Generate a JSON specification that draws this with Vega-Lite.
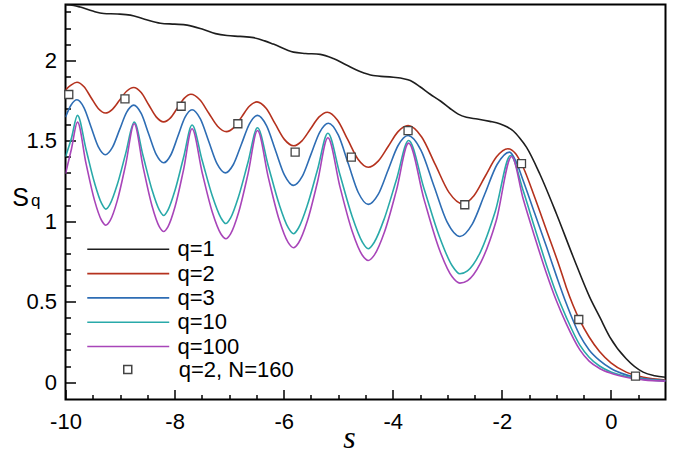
{
  "$schema": "https://vega.github.io/schema/vega-lite/v6.json",
  "width": 600,
  "height": 395,
  "autosize": {"type": "none"},
  "padding": {"left": 65.5, "top": 4.5, "right": 13.5, "bottom": 55.5},
  "background": "#ffffff",
  "config": {"view": {"stroke": "#000000", "strokeWidth": 2}, "font": "Liberation Sans"},
  "title": {"text": "q", "orient": "left", "angle": 0, "anchor": "middle", "offset": -33.5, "align": "center", "baseline": "alphabetic", "dy": 3.5, "fontSize": 17, "font": "Liberation Sans", "fontWeight": "normal", "color": "#000000"},
  "datasets": {
    "curves": [
      {"q":"q=1","s":-10,"v":2.345},{"q":"q=1","s":-9.85,"v":2.34},{"q":"q=1","s":-9.73,"v":2.33},{"q":"q=1","s":-9.5,"v":2.305},{"q":"q=1","s":-9.3,"v":2.29},{"q":"q=1","s":-9.05,"v":2.287},{"q":"q=1","s":-8.81,"v":2.28},{"q":"q=1","s":-8.55,"v":2.255},{"q":"q=1","s":-8.26,"v":2.23},{"q":"q=1","s":-8.0,"v":2.224},{"q":"q=1","s":-7.77,"v":2.218},{"q":"q=1","s":-7.47,"v":2.19},{"q":"q=1","s":-7.25,"v":2.165},{"q":"q=1","s":-7.04,"v":2.153},{"q":"q=1","s":-6.8,"v":2.148},{"q":"q=1","s":-6.55,"v":2.14},{"q":"q=1","s":-6.35,"v":2.12},{"q":"q=1","s":-6.19,"v":2.1},{"q":"q=1","s":-5.82,"v":2.05},{"q":"q=1","s":-5.6,"v":2.042},{"q":"q=1","s":-5.33,"v":2.036},{"q":"q=1","s":-5.09,"v":2.01},{"q":"q=1","s":-4.85,"v":1.97},{"q":"q=1","s":-4.6,"v":1.93},{"q":"q=1","s":-4.36,"v":1.905},{"q":"q=1","s":-3.99,"v":1.894},{"q":"q=1","s":-3.8,"v":1.885},{"q":"q=1","s":-3.68,"v":1.874},{"q":"q=1","s":-3.5,"v":1.835},{"q":"q=1","s":-3.32,"v":1.79},{"q":"q=1","s":-3.12,"v":1.745},{"q":"q=1","s":-2.95,"v":1.7},{"q":"q=1","s":-2.8,"v":1.665},{"q":"q=1","s":-2.65,"v":1.645},{"q":"q=1","s":-2.45,"v":1.635},{"q":"q=1","s":-2.22,"v":1.62},{"q":"q=1","s":-2.04,"v":1.605},{"q":"q=1","s":-1.9,"v":1.585},{"q":"q=1","s":-1.79,"v":1.56},{"q":"q=1","s":-1.67,"v":1.515},{"q":"q=1","s":-1.55,"v":1.46},{"q":"q=1","s":-1.3,"v":1.29},{"q":"q=1","s":-1.0,"v":1.046},{"q":"q=1","s":-0.69,"v":0.776},{"q":"q=1","s":-0.39,"v":0.528},{"q":"q=1","s":-0.2,"v":0.4},{"q":"q=1","s":-0.02,"v":0.28},{"q":"q=1","s":0.28,"v":0.145},{"q":"q=1","s":0.59,"v":0.062},{"q":"q=1","s":0.8,"v":0.04},{"q":"q=1","s":1.0,"v":0.03},

      {"q":"q=2","s":-10,"v":1.815},{"q":"q=2","s":-9.9,"v":1.845},{"q":"q=2","s":-9.79,"v":1.863},{"q":"q=2","s":-9.66,"v":1.835},{"q":"q=2","s":-9.53,"v":1.767},{"q":"q=2","s":-9.4,"v":1.7},{"q":"q=2","s":-9.27,"v":1.672},{"q":"q=2","s":-9.14,"v":1.695},{"q":"q=2","s":-9.01,"v":1.751},{"q":"q=2","s":-8.88,"v":1.807},{"q":"q=2","s":-8.75,"v":1.83},{"q":"q=2","s":-8.6125,"v":1.799},{"q":"q=2","s":-8.475,"v":1.723},{"q":"q=2","s":-8.3375,"v":1.648},{"q":"q=2","s":-8.2,"v":1.617},{"q":"q=2","s":-8.075,"v":1.642},{"q":"q=2","s":-7.95,"v":1.702},{"q":"q=2","s":-7.825,"v":1.763},{"q":"q=2","s":-7.7,"v":1.788},{"q":"q=2","s":-7.5375,"v":1.754},{"q":"q=2","s":-7.375,"v":1.672},{"q":"q=2","s":-7.2125,"v":1.59},{"q":"q=2","s":-7.05,"v":1.556},{"q":"q=2","s":-6.91,"v":1.583},{"q":"q=2","s":-6.77,"v":1.648},{"q":"q=2","s":-6.63,"v":1.714},{"q":"q=2","s":-6.49,"v":1.741},{"q":"q=2","s":-6.3225,"v":1.701},{"q":"q=2","s":-6.155,"v":1.604},{"q":"q=2","s":-5.9875,"v":1.508},{"q":"q=2","s":-5.82,"v":1.468},{"q":"q=2","s":-5.665,"v":1.499},{"q":"q=2","s":-5.51,"v":1.572},{"q":"q=2","s":-5.355,"v":1.646},{"q":"q=2","s":-5.2,"v":1.677},{"q":"q=2","s":-5.0125,"v":1.627},{"q":"q=2","s":-4.825,"v":1.506},{"q":"q=2","s":-4.6375,"v":1.385},{"q":"q=2","s":-4.45,"v":1.335},{"q":"q=2","s":-4.2675,"v":1.373},{"q":"q=2","s":-4.085,"v":1.464},{"q":"q=2","s":-3.9025,"v":1.556},{"q":"q=2","s":-3.72,"v":1.594},{"q":"q=2","s":-3.47,"v":1.523},{"q":"q=2","s":-3.22,"v":1.351},{"q":"q=2","s":-2.97,"v":1.179},{"q":"q=2","s":-2.72,"v":1.108},{"q":"q=2","s":-2.5125,"v":1.158},{"q":"q=2","s":-2.305,"v":1.279},{"q":"q=2","s":-2.0975,"v":1.4},{"q":"q=2","s":-1.89,"v":1.45},{"q":"q=2","s":-1.75,"v":1.42},{"q":"q=2","s":-1.61,"v":1.335},{"q":"q=2","s":-1.4,"v":1.15},{"q":"q=2","s":-1.18,"v":0.942},{"q":"q=2","s":-0.94,"v":0.714},{"q":"q=2","s":-0.82,"v":0.59},{"q":"q=2","s":-0.57,"v":0.383},{"q":"q=2","s":-0.4,"v":0.28},{"q":"q=2","s":-0.21,"v":0.19},{"q":"q=2","s":0,"v":0.12},{"q":"q=2","s":0.28,"v":0.062},{"q":"q=2","s":0.6,"v":0.03},{"q":"q=2","s":1,"v":0.013},

      {"q":"q=3","s":-10,"v":1.646},{"q":"q=3","s":-9.9,"v":1.72},{"q":"q=3","s":-9.79,"v":1.754},{"q":"q=3","s":-9.66,"v":1.704},{"q":"q=3","s":-9.53,"v":1.583},{"q":"q=3","s":-9.4,"v":1.463},{"q":"q=3","s":-9.27,"v":1.413},{"q":"q=3","s":-9.14,"v":1.458},{"q":"q=3","s":-9.01,"v":1.567},{"q":"q=3","s":-8.88,"v":1.676},{"q":"q=3","s":-8.75,"v":1.721},{"q":"q=3","s":-8.6125,"v":1.669},{"q":"q=3","s":-8.475,"v":1.542},{"q":"q=3","s":-8.3375,"v":1.415},{"q":"q=3","s":-8.2,"v":1.363},{"q":"q=3","s":-8.07,"v":1.411},{"q":"q=3","s":-7.94,"v":1.527},{"q":"q=3","s":-7.81,"v":1.644},{"q":"q=3","s":-7.68,"v":1.692},{"q":"q=3","s":-7.5275,"v":1.635},{"q":"q=3","s":-7.375,"v":1.496},{"q":"q=3","s":-7.2225,"v":1.357},{"q":"q=3","s":-7.07,"v":1.3},{"q":"q=3","s":-6.9225,"v":1.352},{"q":"q=3","s":-6.775,"v":1.478},{"q":"q=3","s":-6.6275,"v":1.605},{"q":"q=3","s":-6.48,"v":1.657},{"q":"q=3","s":-6.315,"v":1.593},{"q":"q=3","s":-6.15,"v":1.439},{"q":"q=3","s":-5.985,"v":1.286},{"q":"q=3","s":-5.82,"v":1.222},{"q":"q=3","s":-5.66,"v":1.278},{"q":"q=3","s":-5.5,"v":1.415},{"q":"q=3","s":-5.34,"v":1.552},{"q":"q=3","s":-5.18,"v":1.608},{"q":"q=3","s":-4.9975,"v":1.534},{"q":"q=3","s":-4.815,"v":1.356},{"q":"q=3","s":-4.6325,"v":1.178},{"q":"q=3","s":-4.45,"v":1.104},{"q":"q=3","s":-4.2675,"v":1.166},{"q":"q=3","s":-4.085,"v":1.318},{"q":"q=3","s":-3.9025,"v":1.47},{"q":"q=3","s":-3.72,"v":1.532},{"q":"q=3","s":-3.4825,"v":1.44},{"q":"q=3","s":-3.245,"v":1.218},{"q":"q=3","s":-3.0075,"v":0.997},{"q":"q=3","s":-2.77,"v":0.905},{"q":"q=3","s":-2.5425,"v":0.982},{"q":"q=3","s":-2.315,"v":1.167},{"q":"q=3","s":-2.0875,"v":1.352},{"q":"q=3","s":-1.86,"v":1.429},{"q":"q=3","s":-1.74,"v":1.37},{"q":"q=3","s":-1.61,"v":1.253},{"q":"q=3","s":-1.4,"v":1.05},{"q":"q=3","s":-1.18,"v":0.839},{"q":"q=3","s":-1.0,"v":0.66},{"q":"q=3","s":-0.82,"v":0.49},{"q":"q=3","s":-0.57,"v":0.29},{"q":"q=3","s":-0.4,"v":0.2},{"q":"q=3","s":-0.21,"v":0.135},{"q":"q=3","s":0,"v":0.085},{"q":"q=3","s":0.28,"v":0.045},{"q":"q=3","s":0.6,"v":0.022},{"q":"q=3","s":1,"v":0.01},

      {"q":"q=10","s":-10,"v":1.4},{"q":"q=10","s":-9.89,"v":1.517},{"q":"q=10","s":-9.78,"v":1.657},{"q":"q=10","s":-9.624,"v":1.447},{"q":"q=10","s":-9.468,"v":1.238},{"q":"q=10","s":-9.338,"v":1.11},{"q":"q=10","s":-9.26,"v":1.075},{"q":"q=10","s":-9.182,"v":1.107},{"q":"q=10","s":-9.052,"v":1.226},{"q":"q=10","s":-8.896,"v":1.421},{"q":"q=10","s":-8.74,"v":1.615},{"q":"q=10","s":-8.578,"v":1.406},{"q":"q=10","s":-8.416,"v":1.197},{"q":"q=10","s":-8.281,"v":1.07},{"q":"q=10","s":-8.2,"v":1.035},{"q":"q=10","s":-8.122,"v":1.069},{"q":"q=10","s":-7.992,"v":1.192},{"q":"q=10","s":-7.836,"v":1.395},{"q":"q=10","s":-7.68,"v":1.597},{"q":"q=10","s":-7.494,"v":1.377},{"q":"q=10","s":-7.308,"v":1.156},{"q":"q=10","s":-7.153,"v":1.022},{"q":"q=10","s":-7.06,"v":0.985},{"q":"q=10","s":-6.973,"v":1.021},{"q":"q=10","s":-6.828,"v":1.152},{"q":"q=10","s":-6.654,"v":1.366},{"q":"q=10","s":-6.48,"v":1.58},{"q":"q=10","s":-6.282,"v":1.343},{"q":"q=10","s":-6.084,"v":1.106},{"q":"q=10","s":-5.919,"v":0.961},{"q":"q=10","s":-5.82,"v":0.922},{"q":"q=10","s":-5.726,"v":0.959},{"q":"q=10","s":-5.568,"v":1.097},{"q":"q=10","s":-5.379,"v":1.321},{"q":"q=10","s":-5.19,"v":1.546},{"q":"q=10","s":-4.968,"v":1.288},{"q":"q=10","s":-4.746,"v":1.03},{"q":"q=10","s":-4.561,"v":0.872},{"q":"q=10","s":-4.45,"v":0.829},{"q":"q=10","s":-4.339,"v":0.869},{"q":"q=10","s":-4.154,"v":1.017},{"q":"q=10","s":-3.932,"v":1.259},{"q":"q=10","s":-3.71,"v":1.501},{"q":"q=10","s":-3.428,"v":1.203},{"q":"q=10","s":-3.146,"v":0.905},{"q":"q=10","s":-2.911,"v":0.723},{"q":"q=10","s":-2.77,"v":0.673},{"q":"q=10","s":-2.631,"v":0.691},{"q":"q=10","s":-2.398,"v":0.805},{"q":"q=10","s":-2.119,"v":1.063},{"q":"q=10","s":-1.84,"v":1.408},{"q":"q=10","s":-1.61,"v":1.19},{"q":"q=10","s":-1.4,"v":0.96},{"q":"q=10","s":-1.18,"v":0.725},{"q":"q=10","s":-1.0,"v":0.55},{"q":"q=10","s":-0.82,"v":0.404},{"q":"q=10","s":-0.57,"v":0.23},{"q":"q=10","s":-0.4,"v":0.155},{"q":"q=10","s":-0.21,"v":0.1},{"q":"q=10","s":0,"v":0.063},{"q":"q=10","s":0.28,"v":0.035},{"q":"q=10","s":0.6,"v":0.017},{"q":"q=10","s":1,"v":0.008},

      {"q":"q=100","s":-10,"v":1.294},{"q":"q=100","s":-9.89,"v":1.45},{"q":"q=100","s":-9.78,"v":1.615},{"q":"q=100","s":-9.624,"v":1.359},{"q":"q=100","s":-9.468,"v":1.129},{"q":"q=100","s":-9.338,"v":1.004},{"q":"q=100","s":-9.26,"v":0.975},{"q":"q=100","s":-9.182,"v":1.003},{"q":"q=100","s":-9.052,"v":1.126},{"q":"q=100","s":-8.896,"v":1.353},{"q":"q=100","s":-8.74,"v":1.605},{"q":"q=100","s":-8.578,"v":1.337},{"q":"q=100","s":-8.416,"v":1.097},{"q":"q=100","s":-8.281,"v":0.966},{"q":"q=100","s":-8.2,"v":0.936},{"q":"q=100","s":-8.122,"v":0.965},{"q":"q=100","s":-7.992,"v":1.089},{"q":"q=100","s":-7.836,"v":1.319},{"q":"q=100","s":-7.68,"v":1.574},{"q":"q=100","s":-7.494,"v":1.301},{"q":"q=100","s":-7.308,"v":1.055},{"q":"q=100","s":-7.153,"v":0.922},{"q":"q=100","s":-7.06,"v":0.891},{"q":"q=100","s":-6.973,"v":0.921},{"q":"q=100","s":-6.828,"v":1.052},{"q":"q=100","s":-6.654,"v":1.294},{"q":"q=100","s":-6.48,"v":1.563},{"q":"q=100","s":-6.282,"v":1.272},{"q":"q=100","s":-6.084,"v":1.01},{"q":"q=100","s":-5.919,"v":0.868},{"q":"q=100","s":-5.82,"v":0.835},{"q":"q=100","s":-5.726,"v":0.866},{"q":"q=100","s":-5.568,"v":0.999},{"q":"q=100","s":-5.379,"v":1.245},{"q":"q=100","s":-5.19,"v":1.518},{"q":"q=100","s":-4.968,"v":1.213},{"q":"q=100","s":-4.746,"v":0.939},{"q":"q=100","s":-4.561,"v":0.79},{"q":"q=100","s":-4.45,"v":0.756},{"q":"q=100","s":-4.339,"v":0.789},{"q":"q=100","s":-4.154,"v":0.931},{"q":"q=100","s":-3.932,"v":1.193},{"q":"q=100","s":-3.71,"v":1.485},{"q":"q=100","s":-3.428,"v":1.137},{"q":"q=100","s":-3.146,"v":0.824},{"q":"q=100","s":-2.911,"v":0.654},{"q":"q=100","s":-2.77,"v":0.615},{"q":"q=100","s":-2.628,"v":0.631},{"q":"q=100","s":-2.39,"v":0.741},{"q":"q=100","s":-2.105,"v":1.001},{"q":"q=100","s":-1.82,"v":1.402},{"q":"q=100","s":-1.61,"v":1.139},{"q":"q=100","s":-1.4,"v":0.905},{"q":"q=100","s":-1.18,"v":0.673},{"q":"q=100","s":-1.0,"v":0.505},{"q":"q=100","s":-0.82,"v":0.363},{"q":"q=100","s":-0.57,"v":0.2},{"q":"q=100","s":-0.4,"v":0.13},{"q":"q=100","s":-0.21,"v":0.085},{"q":"q=100","s":0,"v":0.055},{"q":"q=100","s":0.28,"v":0.03},{"q":"q=100","s":0.6,"v":0.014},{"q":"q=100","s":1,"v":0.006}
    ],
    "markers": [
      {"label":"q=2, N=160","s":-9.94,"v":1.787},{"label":"q=2, N=160","s":-8.91,"v":1.76},{"label":"q=2, N=160","s":-7.88,"v":1.714},{"label":"q=2, N=160","s":-6.84,"v":1.605},{"label":"q=2, N=160","s":-5.79,"v":1.429},{"label":"q=2, N=160","s":-4.76,"v":1.398},{"label":"q=2, N=160","s":-3.72,"v":1.563},{"label":"q=2, N=160","s":-2.68,"v":1.102},{"label":"q=2, N=160","s":-1.64,"v":1.357},{"label":"q=2, N=160","s":-0.59,"v":0.389},{"label":"q=2, N=160","s":0.45,"v":0.037}
    ]
  },
  "encoding": {
    "x": {
      "field": "s", "type": "quantitative",
      "scale": {"domain": [-10, 1], "nice": false, "zero": false},
      "axis": {
        "values": [-10,-9.5,-9,-8.5,-8,-7.5,-7,-6.5,-6,-5.5,-5,-4.5,-4,-3.5,-3,-2.5,-2,-1.5,-1,-0.5,0,0.5],
        "labelExpr": "abs(datum.value/2-round(datum.value/2))<0.001 ? ''+datum.value : ''",
        "tickSize": {"condition": {"test": "abs(datum.value/2-round(datum.value/2))<0.001", "value": -10}, "value": -5},
        "tickColor": "#000000", "tickWidth": 1.5,
        "domain": false, "grid": false,
        "labelFont": "Liberation Sans", "labelFontSize": 22, "labelColor": "#000000",
        "labelPadding": 22, "labelFlush": false, "labelOverlap": false, "labelBound": false,
        "title": "s", "titleFont": "Liberation Serif", "titleFontStyle": "italic", "titleFontWeight": "normal",
        "titleFontSize": 32, "titleColor": "#000000",
        "titleX": 283.5, "titleY": 47.5, "titleAlign": "center", "titleBaseline": "alphabetic"
      }
    },
    "y": {
      "field": "v", "type": "quantitative",
      "scale": {"domain": [-0.108, 2.346], "nice": false, "zero": false},
      "axis": {
        "values": [0,0.1,0.2,0.3,0.4,0.5,0.6,0.7,0.8,0.9,1,1.1,1.2,1.3,1.4,1.5,1.6,1.7,1.8,1.9,2,2.1,2.2,2.3],
        "labelExpr": "abs(datum.value*2-round(datum.value*2))<0.001 ? ''+datum.value : ''",
        "tickSize": {"condition": {"test": "abs(datum.value*2-round(datum.value*2))<0.001", "value": -10}, "value": -5},
        "tickColor": "#000000", "tickWidth": 1.5,
        "domain": false, "grid": false,
        "labelFont": "Liberation Sans", "labelFontSize": 22, "labelColor": "#000000",
        "labelPadding": 19, "labelOverlap": false, "labelBound": false, "labelFlush": false,
        "title": "S", "titleFont": "Liberation Sans", "titleFontWeight": "normal", "titleFontSize": 25,
        "titleColor": "#000000", "titleAngle": 0,
        "titleX": -45.5, "titleY": 200.5, "titleAlign": "center", "titleBaseline": "alphabetic"
      }
    }
  },
  "layer": [
    {
      "data": {"name": "curves"},
      "mark": {"type": "line", "interpolate": "monotone", "strokeWidth": 1.6, "clip": true},
      "encoding": {
        "color": {
          "field": "q", "type": "nominal",
          "scale": {"domain": ["q=1","q=2","q=3","q=10","q=100"], "range": ["#1e1e1e","#b5321e","#2e6db4","#29a9a9","#a845b9"]},
          "legend": {
            "orient": "none", "legendX": 51.25, "legendY": 233.3, "title": null, "padding": 0,
            "symbolType": "M-4,0H4", "symbolSize": 420, "symbolStrokeWidth": 1.6,
            "labelFont": "Liberation Sans", "labelFontSize": 22, "labelColor": "#000000",
            "labelOffset": 37.75, "rowPadding": 1.3, "labelLimit": 300
          }
        }
      }
    },
    {
      "data": {"name": "markers"},
      "mark": {"type": "point", "filled": false, "fill": "#ffffff", "fillOpacity": 1, "stroke": "#444444", "strokeWidth": 1.3, "size": 64, "opacity": 1},
      "encoding": {
        "shape": {
          "field": "label", "type": "nominal",
          "scale": {"range": ["square"]},
          "legend": {
            "orient": "none", "legendX": 51.25, "legendY": 354, "title": null, "padding": 0,
            "symbolSize": 64, "symbolType": "square",
            "labelFont": "Liberation Sans", "labelFontSize": 22, "labelColor": "#000000",
            "labelOffset": 40, "labelLimit": 300,
            "encode": {"symbols": {"update": {"stroke": {"value": "#444444"}, "fill": {"value": "#ffffff"}, "strokeWidth": {"value": 1.3}, "opacity": {"value": 1}, "size": {"value": 64}, "shape": {"value": "square"}}}}
          }
        }
      }
    }
  ]
}
